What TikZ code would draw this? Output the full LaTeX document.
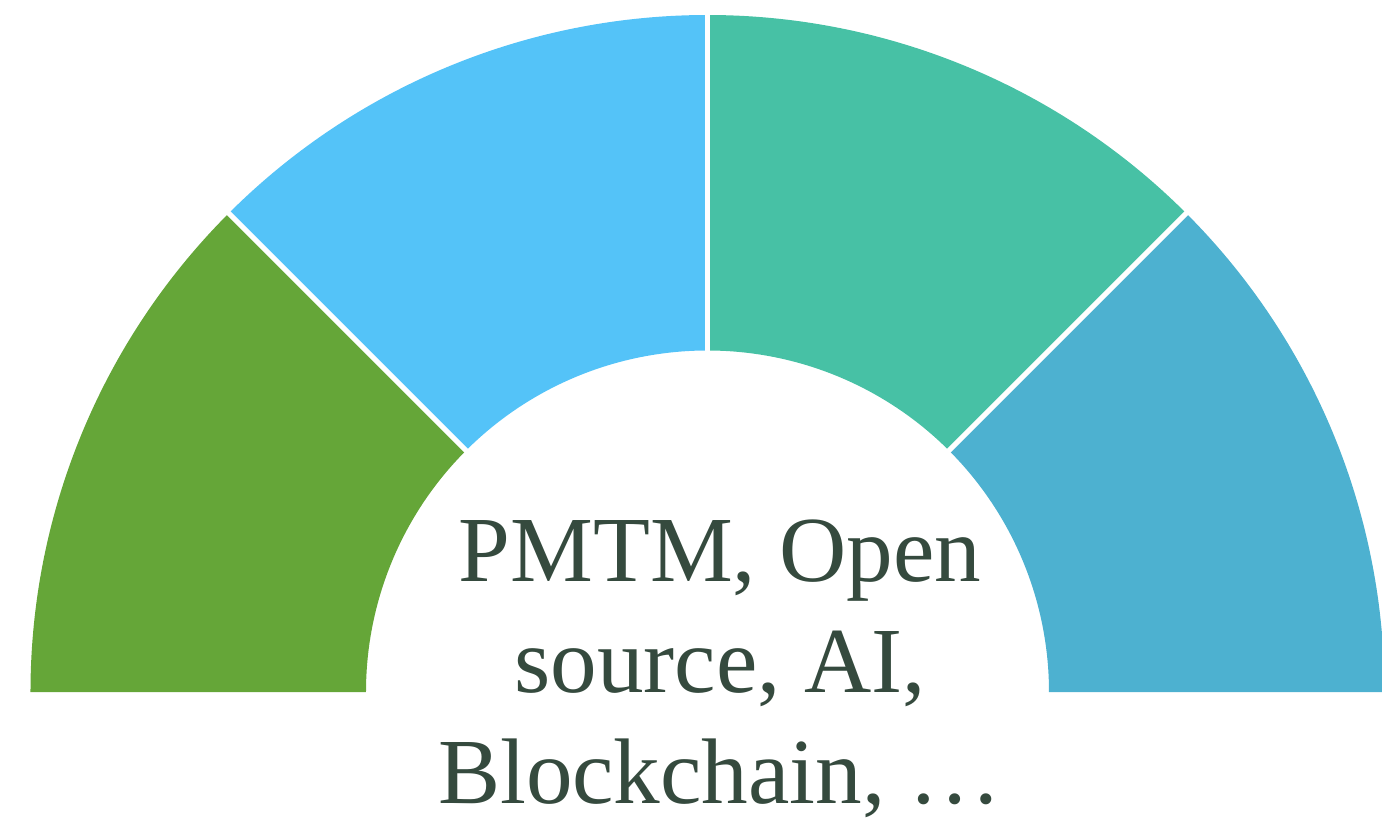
\documentclass[tikz,border=0pt]{standalone}
\usepackage{fontspec}
\setmainfont{Liberation Serif}
\usepackage{xcolor}
\usepackage{tikz}
\definecolor{segGreen}{HTML}{65A638}
\definecolor{segSky}{HTML}{54C3F8}
\definecolor{segTeal}{HTML}{47C1A5}
\definecolor{segBlue}{HTML}{4DB1D0}
\definecolor{labelColor}{HTML}{354A3E}

\begin{document}
\begin{tikzpicture}
    \clip (-14.15,-2.6) rectangle (13.49,13.84);
    \def\outR{13.54}
    \def\inR{6.83}
    
    % Segment 1 (left)
    \fill[segGreen] (180:\outR) arc[start angle=180, end angle=135, radius=\outR]
        -- (135:\inR) arc[start angle=135, end angle=180, radius=\inR] -- cycle;
    
    % Segment 2
    \fill[segSky] (135:\outR) arc[start angle=135, end angle=90, radius=\outR]
        -- (90:\inR) arc[start angle=90, end angle=135, radius=\inR] -- cycle;
    
    % Segment 3
    \fill[segTeal] (90:\outR) arc[start angle=90, end angle=45, radius=\outR]
        -- (45:\inR) arc[start angle=45, end angle=90, radius=\inR] -- cycle;
    
    % Segment 4 (right)
    \fill[segBlue] (45:\outR) arc[start angle=45, end angle=0, radius=\outR]
        -- (0:\inR) arc[start angle=0, end angle=45, radius=\inR] -- cycle;
    
    % Gaps between segments
    \draw[white, line width=3pt] (45:6.7) -- (45:13.7);
    \draw[white, line width=3pt] (90:6.7) -- (90:13.7);
    \draw[white, line width=3pt] (135:6.7) -- (135:13.7);
    
    % Label
    \node[align=center, anchor=base, text=labelColor, inner sep=0pt,
          font=\fontsize{53}{63}\selectfont] (label) at (0.25,-2.22)
        {PMTM, Open\\source, AI,\\Blockchain, \dots};
    
\end{tikzpicture}
\end{document}
